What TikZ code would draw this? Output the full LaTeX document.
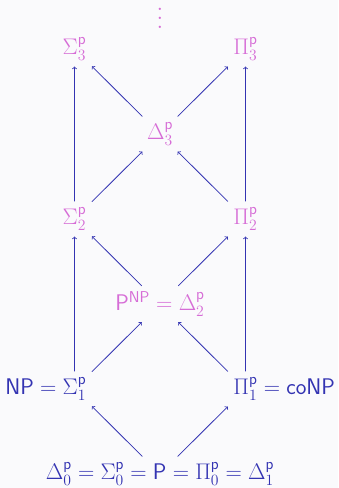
\documentclass[tikz,border=0pt]{standalone}
\usepackage{amsmath}
\definecolor{hierblue}{RGB}{51,51,178}
\definecolor{hierpink}{RGB}{214,108,214}
\definecolor{slidebg}{RGB}{250,250,252}
\begin{document}
\begin{tikzpicture}[x=85.5pt, y=85pt,
    cls/.style={font=\huge, scale=1.09, transform shape, inner sep=5pt},
    arr/.style={->, hierblue, line width=0.8pt}]
        \useasboundingbox (-160pt,-14pt) rectangle (178pt,474pt);
        \fill[slidebg] (-160pt,-14pt) rectangle (178pt,474pt);
        % level 0 and 1 (blue)
        \node[cls, hierblue] (d0) at (0,0) {$\Delta^{\mathsf{p}}_0=\Sigma^{\mathsf{p}}_0=\mathsf{P}=\Pi^{\mathsf{p}}_0=\Delta^{\mathsf{p}}_1$};
        \node[cls, hierblue] (s1) at (-1,1) {$\llap{$\mathsf{NP}={}$}\Sigma^{\mathsf{p}}_1$};
        \node[cls, hierblue] (p1) at (1,1) {$\Pi^{\mathsf{p}}_1\rlap{${}=\mathsf{coNP}$}$};
        % higher levels (pink)
        \node[cls, hierpink] (d2) at (0,2) {$\mathsf{P}^{\mathsf{NP}}=\Delta^{\mathsf{p}}_2$};
        \node[cls, hierpink] (s2) at (-1,3) {$\Sigma^{\mathsf{p}}_2$};
        \node[cls, hierpink] (p2) at (1,3) {$\Pi^{\mathsf{p}}_2$};
        \node[cls, hierpink] (d3) at (0,4) {$\Delta^{\mathsf{p}}_3$};
        \node[cls, hierpink] (s3) at (-1,5) {$\Sigma^{\mathsf{p}}_3$};
        \node[cls, hierpink] (p3) at (1,5) {$\Pi^{\mathsf{p}}_3$};
        \node[hierpink, scale=2.2, inner sep=0pt, anchor=base] (dots) at (0,5.247) {$\vdots$};
        % inclusions
        \foreach \a/\b in {d0/s1, d0/p1, s1/d2, p1/d2, d2/s2, d2/p2,
                           s2/d3, p2/d3, d3/s3, d3/p3, s1/s2, s2/s3, p1/p2, p2/p3}
            \draw[arr] (\a) -- (\b);
\end{tikzpicture}
\end{document}
